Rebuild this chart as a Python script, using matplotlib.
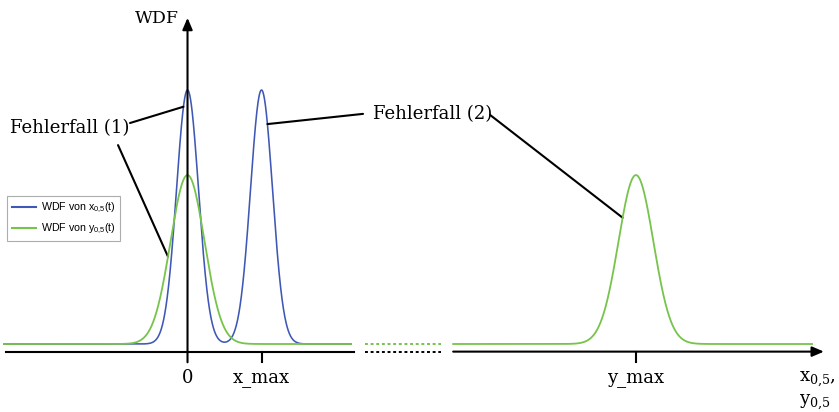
import numpy as np
import matplotlib
matplotlib.use("Agg")
import matplotlib.pyplot as plt

plt.rcParams["mathtext.default"] = "regular"

# ---- data (x in units of x_max, y normalised to the blue peak height) ----
series_names = ["WDF von x$_{0{,}5}$(t)", "WDF von y$_{0{,}5}$(t)"]
blue_centers = [0.0, 1.0]          # peaks of the WDF of x: at 0 and x_max
blue_heights = [1.0, 1.0]
blue_sigmas = [0.149, 0.149]
green_centers = [0.0, 6.06]        # peaks of the WDF of y: at 0 and y_max
green_heights = [0.665, 0.665]
green_sigmas = [0.23, 0.236]

tick_positions = [0.0, 1.0, 6.06]
tick_labels = ["0", "x_max", "y_max"]

annot_texts = ["Fehlerfall (1)", "Fehlerfall (2)"]

# ---- layout ----
BLUE = "#3F58B5"
GREEN = "#76C44B"
W, H = 839, 412
fig = plt.figure(figsize=(W / 100, H / 100), dpi=100)
ax = fig.add_axes([0, 0, 1, 1])
ax.set_xlim(-2.534, 8.804)
ax.set_ylim(-0.2677, 1.3543)
ax.axis("off")

seg_left = (-2.48, 2.21)
seg_gap = (2.40, 3.43)
seg_right = (3.59, 8.44)
axis_y = -0.030


def wdf(x, centers, heights, sigmas):
    y = np.zeros_like(x)
    for c, h, s in zip(centers, heights, sigmas):
        y += h * np.exp(-0.5 * ((x - c) / s) ** 2)
    return y


xl = np.linspace(*seg_left, 1500)
xr = np.linspace(*seg_right, 1500)

lb, = ax.plot(xl, wdf(xl, blue_centers, blue_heights, blue_sigmas), color=BLUE, lw=1.15,
              label=series_names[0], zorder=3)
lg, = ax.plot(xl, wdf(xl, green_centers, green_heights, green_sigmas), color=GREEN, lw=1.3,
              label=series_names[1], zorder=4)
ax.plot(xr, wdf(xr, green_centers, green_heights, green_sigmas), color=GREEN, lw=1.3, zorder=4)
ax.plot(seg_gap, [0, 0], color=GREEN, lw=1.4, ls=(0, (1.5, 1.4)), zorder=4)

# horizontal axis (broken)
ax.plot([seg_left[0] + 0.03, seg_left[1] + 0.04], [axis_y, axis_y], color="black", lw=1.5, zorder=2)
ax.plot(seg_gap, [axis_y, axis_y], color="black", lw=1.4, ls=(0, (1.5, 1.4)), zorder=2)
ax.annotate("", xy=(8.6, axis_y), xytext=(seg_right[0], axis_y),
            arrowprops=dict(arrowstyle="-|>,head_length=0.7,head_width=0.3", lw=1.5,
                            color="black", shrinkA=0, shrinkB=0), zorder=2)
# vertical axis
ax.annotate("", xy=(0, 1.284), xytext=(0, -0.072),
            arrowprops=dict(arrowstyle="-|>,head_length=0.7,head_width=0.3", lw=1.5,
                            color="black", shrinkA=0, shrinkB=0), zorder=5)

# ticks
for tp in tick_positions[1:]:
    ax.plot([tp, tp], [axis_y, -0.072], color="black", lw=1.5)

SERIF = "DejaVu Serif"
for tp, tl in zip(tick_positions, tick_labels):
    ax.text(tp, -0.135, tl, ha="center", va="center", fontsize=13, family=SERIF)

ax.text(-0.42, 1.28, "WDF", ha="center", va="center", fontsize=12.5, family=SERIF)
ax.text(8.27, -0.14, "x$_{0{,}5}$,", ha="left", va="center", fontsize=13, family=SERIF)
ax.text(8.27, -0.228, "y$_{0{,}5}$", ha="left", va="center", fontsize=13, family=SERIF)

# annotations
ax.text(-2.40, 0.85, annot_texts[0], ha="left", va="center", fontsize=13, family=SERIF)
ax.text(2.50, 0.905, annot_texts[1], ha="left", va="center", fontsize=13, family=SERIF)


def on_curve(xv, centers, heights, sigmas):
    return (xv, float(wdf(np.array([xv]), centers, heights, sigmas)[0]))


lines = [
    ((-0.777, 0.870), on_curve(-0.055, blue_centers, blue_heights, blue_sigmas)),
    ((-0.939, 0.783), on_curve(-0.264, green_centers, green_heights, green_sigmas)),
    ((2.372, 0.906), on_curve(1.08, blue_centers, blue_heights, blue_sigmas)),
    ((4.088, 0.902), on_curve(5.88, green_centers, green_heights, green_sigmas)),
]
for start, end in lines:
    ax.annotate("", xy=end, xytext=start,
                arrowprops=dict(arrowstyle="-", lw=1.5, color="black", shrinkA=0, shrinkB=0))

leg = ax.legend(handles=[lb, lg], loc="upper left", bbox_to_anchor=(7 / W, 1 - 196 / H),
                bbox_transform=fig.transFigure, prop={"family": "Liberation Sans", "size": 7.7},
                frameon=True, fancybox=False, edgecolor="#999999", borderpad=0.45,
                handlelength=2.3, handletextpad=0.4, labelspacing=0.65, borderaxespad=0)
leg.get_frame().set_linewidth(0.8)
for l in leg.get_lines():
    l.set_linewidth(1.5)

fig.savefig("out.png", dpi=100)
